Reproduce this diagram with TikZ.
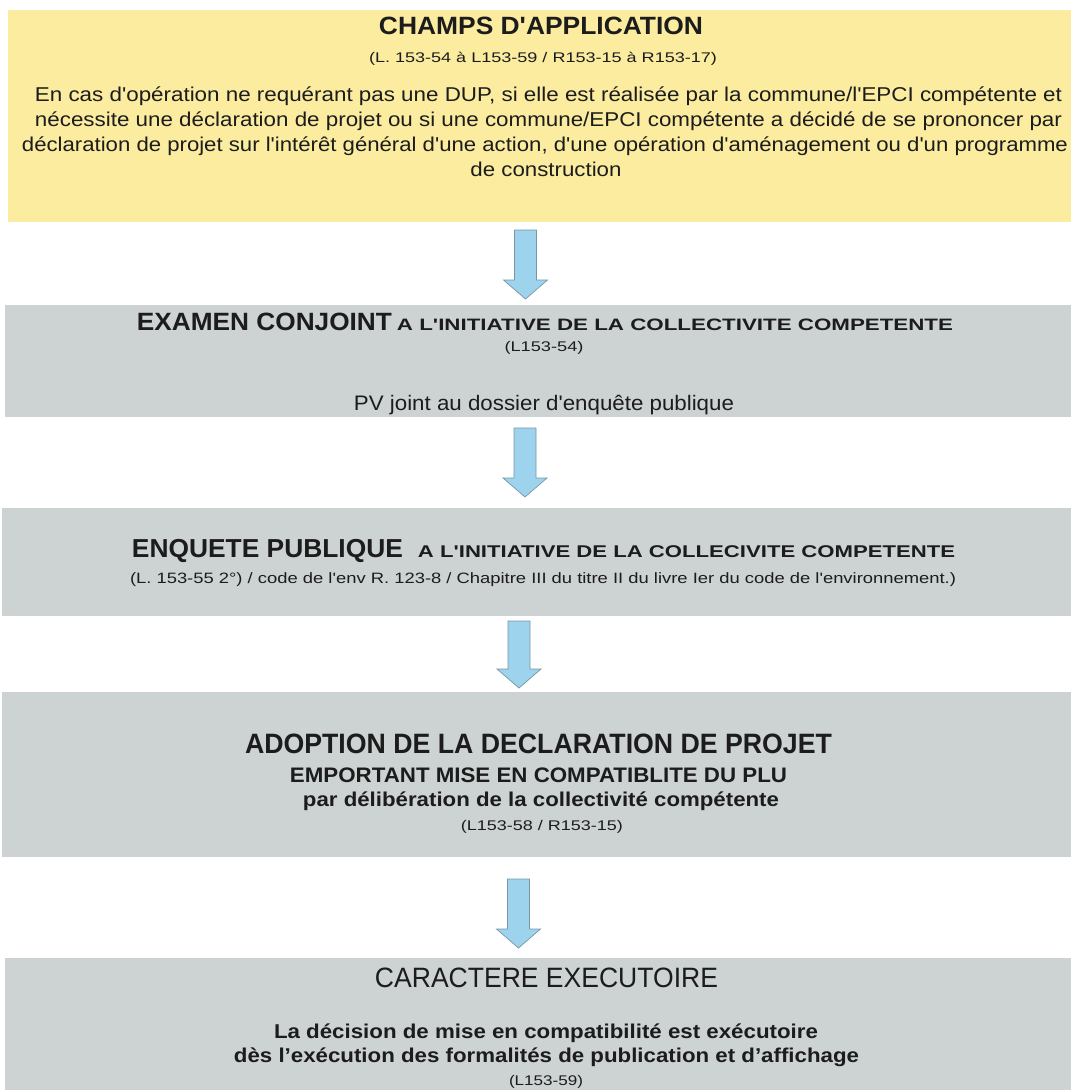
\documentclass[tikz,border=0pt]{standalone}
\usepackage{fontspec}
\usepackage{graphicx}
\newfontfamily\lsans{Liberation Sans}
\usetikzlibrary{calc}

\definecolor{champsyellow}{RGB}{251,236,160}
\definecolor{panelgrey}{RGB}{205,210,210}
\definecolor{arrowblue}{RGB}{158,211,238}
\definecolor{arrowedge}{RGB}{120,150,165}
\definecolor{ink}{RGB}{28,28,28}

% stretch a line of text to a given width, keeping its height
\newcommand\fitline[2]{\resizebox{#1}{\height}{#2}}
% font size helper
\newcommand\fs[1]{\fontsize{#1}{#1}\selectfont}

% block arrow pointing down from #1 (top of shaft) to #2 (tip)
\newcommand\blockarrow[2]{%
  \draw[flowarrow] let \p1=(#1), \p2=(#2) in
    (\x1-11pt,\y1) -- (\x1+11pt,\y1) -- (\x1+11pt,\y2+19pt)
    -- (\x1+22pt,\y2+19pt) -- (\x2,\y2) -- (\x1-22pt,\y2+19pt)
    -- (\x1-11pt,\y2+19pt) -- cycle;}

\tikzset{
  panel/.style={rectangle, draw=none, inner sep=0pt, anchor=north west},
  txt/.style={anchor=base, inner sep=0pt, text=ink},
  flowarrow/.style={fill=arrowblue, draw=arrowedge, line width=0.7pt, line join=miter},
}

\begin{document}
\begin{tikzpicture}[x=1pt,y=-1pt,font=\lsans]
\useasboundingbox (0,0) rectangle (1071,1090);
\fill[white] (0,0) rectangle (1071,1090);

% ---- panels ----
\node[panel, fill=champsyellow, minimum width=1063pt, minimum height=212pt] (champs) at (8,10) {};
\node[panel, fill=panelgrey, minimum width=1066pt, minimum height=112pt] (examen) at (5,305) {};
\node[panel, fill=panelgrey, minimum width=1069pt, minimum height=108pt] (enquete) at (2,508) {};
\node[panel, fill=panelgrey, minimum width=1069pt, minimum height=165pt] (adoption) at (2,692) {};
\node[panel, fill=panelgrey, minimum width=1066pt, minimum height=132pt] (caractere) at (5,958) {};

% ---- champs d'application ----
\node[txt, font=\lsans\bfseries\fs{25}] (champsT) at (541,34) {\fitline{324pt}{CHAMPS D'APPLICATION}};
\node[txt, font=\lsans\fs{14}] (champsR) at (543,62) {\fitline{348pt}{(L. 153-54 à L153-59 / R153-15 à R153-17)}};
\node[txt, font=\lsans\fs{20}] (champsL1) at (548.5,101) {\fitline{1027pt}{En cas d'opération ne requérant pas une DUP, si elle est réalisée par la commune/l'EPCI compétente et}};
\node[txt, font=\lsans\fs{20}] (champsL2) at (548.5,126) {\fitline{1027pt}{nécessite une déclaration de projet ou si une commune/EPCI compétente a décidé de se prononcer par}};
\node[txt, font=\lsans\fs{20}] (champsL3) at (545,151) {\fitline{1046pt}{déclaration de projet sur l'intérêt général d'une action, d'une opération d'aménagement ou d'un programme}};
\node[txt, font=\lsans\fs{20}] (champsL4) at (546,176) {\fitline{151pt}{de construction}};

% ---- examen conjoint ----
\node[txt, font=\lsans\bfseries] (examenT) at (545,330)
  {\fs{25}\fitline{255pt}{EXAMEN CONJOINT}\hspace{5pt}\fs{16.5}\fitline{556pt}{A L'INITIATIVE DE LA COLLECTIVITE COMPETENTE}};
\node[txt, font=\lsans\fs{14}] (examenR) at (544,351) {\fitline{79pt}{(L153-54)}};
\node[txt, font=\lsans\fs{21}] (examenPV) at (544,410) {\fitline{380pt}{PV joint au dossier d'enquête publique}};

% ---- enquete publique ----
\node[txt, font=\lsans\bfseries] (enqueteT) at (543.5,557)
  {\fs{26}\fitline{271pt}{ENQUETE PUBLIQUE}\hspace{15pt}\fs{17}\fitline{537pt}{A L'INITIATIVE DE LA COLLECIVITE COMPETENTE}};
\node[txt, font=\lsans\fs{15}] (enqueteR) at (543,583) {\fitline{826pt}{(L. 153-55 2°) / code de l'env R. 123-8 / Chapitre III du titre II du livre Ier du code de l'environnement.)}};

% ---- adoption ----
\node[txt, font=\lsans\bfseries\fs{28}] (adoptionT) at (538.5,753) {\fitline{587pt}{ADOPTION DE LA DECLARATION DE PROJET}};
\node[txt, font=\lsans\bfseries\fs{21}] (adoptionL1) at (538.5,782) {\fitline{497pt}{EMPORTANT MISE EN COMPATIBLITE DU PLU}};
\node[txt, font=\lsans\bfseries\fs{20}] (adoptionL2) at (541,806) {\fitline{476pt}{par délibération de la collectivité compétente}};
\node[txt, font=\lsans\fs{14}] (adoptionR) at (542,830) {\fitline{162pt}{(L153-58 / R153-15)}};

% ---- caractere executoire ----
\node[txt, font=\lsans\fs{28}] (caractereT) at (546.5,987) {\fitline{343pt}{CARACTERE EXECUTOIRE}};
\node[txt, font=\lsans\bfseries\fs{20}] (caractereL1) at (546,1038) {\fitline{544pt}{La décision de mise en compatibilité est exécutoire}};
\node[txt, font=\lsans\bfseries\fs{20}] (caractereL2) at (546.5,1062) {\fitline{625pt}{dès l’exécution des formalités de publication et d’affichage}};
\node[txt, font=\lsans\fs{14}] (caractereR) at (546,1085) {\fitline{74pt}{(L153-59)}};

% ---- arrows between panels ----
\coordinate (a1top) at (525.5,230);  \coordinate (a1tip) at (525.5,299);
\coordinate (a2top) at (525,428);    \coordinate (a2tip) at (525,497);
\coordinate (a3top) at (519,621);    \coordinate (a3tip) at (519,688);
\coordinate (a4top) at (518.5,879);  \coordinate (a4tip) at (518.5,948);
\blockarrow{a1top}{a1tip}
\blockarrow{a2top}{a2tip}
\blockarrow{a3top}{a3tip}
\blockarrow{a4top}{a4tip}
\end{tikzpicture}
\end{document}
